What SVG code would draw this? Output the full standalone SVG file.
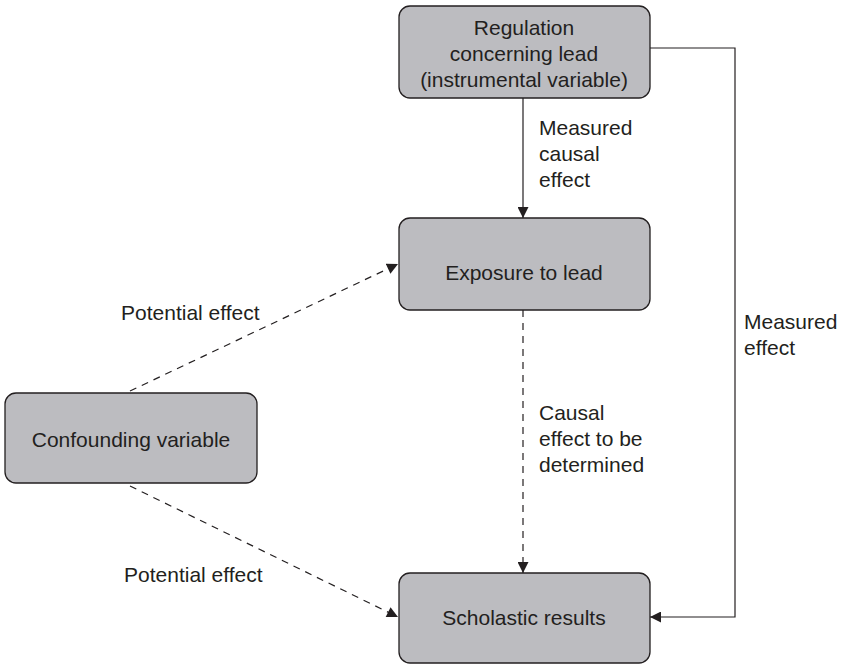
<svg xmlns="http://www.w3.org/2000/svg" width="843" height="665" viewBox="0 0 843 665">
<defs>
<marker id="ah" viewBox="0 0 10 10" refX="10" refY="5" markerWidth="12" markerHeight="11" markerUnits="userSpaceOnUse" orient="auto">
<path d="M0,0 L10,5 L0,10 Z" fill="#231f20"/>
</marker>
<style>
.box{fill:#bcbcc0;stroke:#231f20;stroke-width:1.3}
.t{font-family:"Liberation Sans",Arial,sans-serif;font-size:21px;fill:#231f20}
.c{text-anchor:middle}
.ln{fill:none;stroke:#231f20;stroke-width:1.2}
.d{stroke-dasharray:7,6}
</style>
</defs>
<rect width="843" height="665" fill="#ffffff"/>
<g id="connectors">
<line class="ln" x1="523" y1="98" x2="523" y2="218" marker-end="url(#ah)"/>
<line class="ln d" x1="523" y1="310" x2="523" y2="573" marker-end="url(#ah)"/>
<polyline class="ln" points="650,48 735,48 735,617 650,617" marker-end="url(#ah)"/>
<line class="ln d" x1="130" y1="391" x2="398" y2="264" marker-end="url(#ah)"/>
<line class="ln d" x1="130" y1="486" x2="398" y2="617" marker-end="url(#ah)"/>
</g>
<g id="regulation">
<rect class="box" x="399" y="6" width="251" height="92" rx="11"/>
<text class="t c" x="524" y="35">Regulation</text>
<text class="t c" x="524" y="61">concerning lead</text>
<text class="t c" x="524" y="87">(instrumental variable)</text>
</g>
<g id="exposure">
<rect class="box" x="399" y="218" width="251" height="92" rx="11"/>
<text class="t c" x="524" y="280">Exposure to lead</text>
</g>
<g id="confounding">
<rect class="box" x="5" y="393" width="252" height="90" rx="11"/>
<text class="t c" x="131" y="447">Confounding variable</text>
</g>
<g id="scholastic">
<rect class="box" x="399" y="573" width="251" height="90" rx="11"/>
<text class="t c" x="524" y="625">Scholastic results</text>
</g>
<g id="labels">
<text class="t" x="539" y="135">Measured</text>
<text class="t" x="539" y="161">causal</text>
<text class="t" x="539" y="187">effect</text>
<text class="t" x="121" y="320">Potential effect</text>
<text class="t" x="744" y="329">Measured</text>
<text class="t" x="744" y="355">effect</text>
<text class="t" x="539" y="420">Causal</text>
<text class="t" x="539" y="446">effect to be</text>
<text class="t" x="539" y="472">determined</text>
<text class="t" x="124" y="582">Potential effect</text>
</g>
</svg>
